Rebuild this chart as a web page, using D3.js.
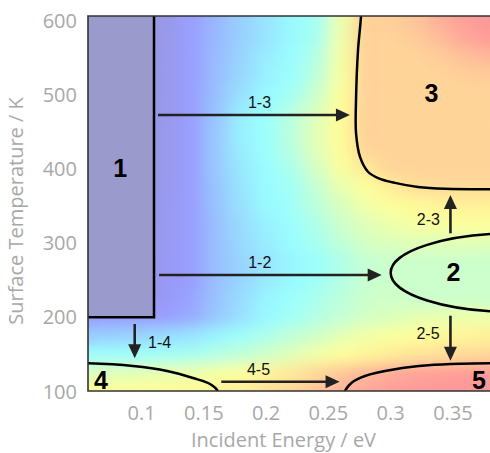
<!DOCTYPE html>
<html>
<head>
<meta charset="utf-8">
<script src="https://cdn.jsdelivr.net/npm/d3@7"></script>
<style>
  body { margin: 0; background: #fff; }
  .tick-label, .axis-title { font-family: "Open Sans", sans-serif; fill: #a8a8a8; }
  .arrow-label { font-family: "Liberation Sans", Arial, sans-serif; font-size: 16px; fill: #111; }
  .region-label { font-family: "Liberation Sans", Arial, sans-serif; font-size: 25px; font-weight: bold; fill: #000; }
</style>
</head>
<body>
<svg id="chart" width="490" height="453"></svg>
<script>
// heatmap grid (colour index 0..1), rows = temperatures, cols = energies
const energies = [0.06, 0.08, 0.10, 0.12, 0.14, 0.16, 0.18, 0.20, 0.22, 0.24, 0.26, 0.28, 0.30, 0.32, 0.34, 0.36, 0.38];
const temps = [600, 575, 550, 525, 500, 475, 450, 425, 400, 375, 350, 325, 300, 275, 250, 225, 200, 175, 150, 125, 100];
const grid = [
  [0.05,0.05,0.05,0.07,0.14,0.20,0.26,0.31,0.36,0.40,0.58,0.74,0.74,0.77,0.82,0.86,0.89],
  [0.05,0.05,0.05,0.07,0.14,0.20,0.26,0.31,0.36,0.41,0.59,0.74,0.73,0.75,0.79,0.84,0.87],
  [0.05,0.05,0.05,0.08,0.14,0.21,0.27,0.33,0.37,0.44,0.60,0.74,0.73,0.73,0.75,0.78,0.80],
  [0.05,0.05,0.05,0.08,0.14,0.21,0.28,0.34,0.38,0.46,0.61,0.74,0.73,0.73,0.73,0.74,0.75],
  [0.05,0.05,0.05,0.08,0.14,0.22,0.30,0.36,0.40,0.50,0.62,0.74,0.73,0.73,0.73,0.73,0.73],
  [0.05,0.05,0.05,0.08,0.14,0.23,0.33,0.38,0.45,0.54,0.63,0.74,0.73,0.73,0.73,0.73,0.73],
  [0.05,0.05,0.05,0.08,0.14,0.24,0.34,0.38,0.46,0.56,0.63,0.74,0.73,0.73,0.73,0.73,0.73],
  [0.05,0.05,0.05,0.08,0.14,0.24,0.33,0.38,0.45,0.55,0.63,0.73,0.73,0.73,0.73,0.73,0.73],
  [0.05,0.05,0.05,0.08,0.14,0.24,0.32,0.37,0.42,0.52,0.61,0.68,0.73,0.73,0.73,0.73,0.73],
  [0.05,0.05,0.05,0.08,0.14,0.23,0.31,0.37,0.40,0.48,0.57,0.62,0.67,0.70,0.71,0.71,0.71],
  [0.05,0.05,0.05,0.09,0.14,0.23,0.30,0.36,0.39,0.46,0.53,0.59,0.62,0.64,0.65,0.66,0.66],
  [0.05,0.05,0.05,0.09,0.14,0.22,0.29,0.34,0.38,0.43,0.50,0.55,0.58,0.60,0.61,0.62,0.62],
  [0.05,0.05,0.05,0.09,0.14,0.22,0.28,0.33,0.37,0.41,0.47,0.52,0.54,0.55,0.55,0.55,0.55],
  [0.05,0.05,0.05,0.10,0.14,0.22,0.27,0.31,0.35,0.38,0.43,0.48,0.50,0.50,0.50,0.50,0.50],
  [0.05,0.05,0.05,0.10,0.14,0.22,0.27,0.32,0.36,0.39,0.44,0.49,0.50,0.50,0.50,0.50,0.50],
  [0.05,0.05,0.05,0.11,0.15,0.23,0.29,0.35,0.38,0.42,0.46,0.50,0.51,0.50,0.50,0.50,0.50],
  [0.14,0.14,0.14,0.14,0.17,0.24,0.30,0.36,0.40,0.44,0.48,0.52,0.54,0.56,0.57,0.58,0.58],
  [0.25,0.26,0.27,0.29,0.31,0.35,0.39,0.43,0.47,0.51,0.56,0.59,0.61,0.62,0.64,0.65,0.66],
  [0.38,0.38,0.39,0.40,0.41,0.44,0.47,0.51,0.55,0.59,0.62,0.65,0.67,0.69,0.70,0.71,0.72],
  [0.54,0.55,0.56,0.57,0.58,0.60,0.62,0.65,0.68,0.72,0.76,0.80,0.83,0.85,0.86,0.87,0.88],
  [0.63,0.63,0.63,0.63,0.64,0.65,0.67,0.70,0.73,0.77,0.81,0.84,0.86,0.87,0.88,0.88,0.88]
];

// axis ticks
const xTicks = [0.1, 0.15, 0.2, 0.25, 0.3, 0.35];
const xTickLabels = ['0.1', '0.15', '0.2', '0.25', '0.3', '0.35'];
const yTicks = [100, 200, 300, 400, 500, 600];

// regions (energy eV, temperature K)
const region1 = { e0: 0.05, e1: 0.11, t0: 200, t1: 620 };
const region2 = { e: 0.40, t: 260, re: 0.10, rt: 53 };
const region3 = [[0.2762, 620], [0.2762, 606], [0.2738, 560], [0.2722, 493], [0.2722, 448], [0.2754, 416],
                 [0.2818, 396], [0.2899, 387.5], [0.3035, 381], [0.3219, 375.5], [0.3436, 373], [0.39, 372.5]];
const region4 = [[0.05, 138], [0.0571, 138], [0.0932, 134.3], [0.1205, 127.6], [0.1413, 118.2], [0.155, 110.1], [0.1614, 100], [0.1614, 95]];
const region5 = [[0.2633, 95], [0.2633, 100], [0.2687, 111.9], [0.2794, 120.9], [0.3035, 129.9], [0.3302, 135.3], [0.357, 137.4], [0.39, 138]];
const regionNames = ['1', '2', '3', '4', '5'];
const regionLabelE = [0.0828, 0.3504, 0.3327, 0.0675, 0.3709];
const regionLabelT = [389, 249, 490, 103.4, 103.4];

// transitions: from (e,t) to (e,t), label position
const arrowNames = ['1-3', '1-2', '1-4', '4-5', '2-3', '2-5'];
const arrowFrom = [[0.1132, 472.4], [0.1141, 256.9], [0.0945, 190.9], [0.164, 113.2], [0.348, 313.1], [0.348, 202.1]];
const arrowTo = [[0.2673, 472.4], [0.2928, 256.9], [0.0945, 144.7], [0.259, 113.2], [0.348, 364.7], [0.348, 141.5]];
const arrowLabelE = [0.1947, 0.1949, 0.1052, 0.1939, 0.3303, 0.33];
const arrowLabelT = [481.8, 266.4, 158.6, 122.2, 324.3, 170.7];
const arrowAnchor = ['middle', 'middle', 'start', 'middle', 'middle', 'middle'];

const LEFT = 88, RIGHT = 490, TOP = 16, BOTTOM = 391;

let svg = d3.select('#chart');

let x = d3.scaleLinear().domain([0.057, 0.38]).range([LEFT, 490.3]);
let y = d3.scaleLinear().domain([100, 600]).range([391.5, 20.3]);

// pale jet colour map
const clamp = v => Math.max(0, Math.min(1, v));
const jet = v => {
  let r = clamp(1.5 - Math.abs(4 * v - 3));
  let g = clamp(1.5 - Math.abs(4 * v - 2));
  let b = clamp(1.5 - Math.abs(4 * v - 1));
  return d3.rgb(255 * (0.6 + 0.4 * r), 255 * (0.6 + 0.4 * g), 255 * (0.6 + 0.4 * b)).formatHex();
};

let defs = svg.append('defs');
defs.append('clipPath').attr('id', 'plot-clip')
  .append('rect')
  .attr('x', LEFT).attr('y', TOP)
  .attr('width', RIGHT - LEFT).attr('height', BOTTOM - TOP);
defs.append('filter').attr('id', 'soft')
  .attr('filterUnits', 'userSpaceOnUse')
  .attr('x', 40).attr('y', -20).attr('width', 500).attr('height', 440)
  .append('feGaussianBlur').attr('stdDeviation', '9 7');

const cells = [];
temps.forEach((t, i) => energies.forEach((e, j) => cells.push({ e, t, v: grid[i][j] })));
const dE = energies[1] - energies[0], dT = temps[0] - temps[1];

let plot = svg.append('g').attr('clip-path', 'url(#plot-clip)');

// plain copy under a blurred copy, so the edges stay filled
function drawCells(g) {
  g.selectAll('rect')
    .data(cells)
    .enter()
    .append('rect')
    .attr('x', d => x(d.e - dE / 2))
    .attr('y', d => y(d.t + dT / 2))
    .attr('width', d => x(d.e + dE / 2) - x(d.e - dE / 2) + 0.5)
    .attr('height', d => y(d.t - dT / 2) - y(d.t + dT / 2) + 0.5)
    .attr('fill', d => jet(d.v));
}
drawCells(plot.append('g'));
drawCells(plot.append('g').attr('filter', 'url(#soft)'));

// region outlines
plot.append('rect')
  .attr('x', x(region1.e0)).attr('y', y(region1.t1))
  .attr('width', x(region1.e1) - x(region1.e0))
  .attr('height', y(region1.t0) - y(region1.t1))
  .attr('fill', '#9a9acc')
  .attr('stroke', '#000')
  .attr('stroke-width', 2.5);

plot.append('ellipse')
  .attr('cx', x(region2.e)).attr('cy', y(region2.t))
  .attr('rx', x(region2.e) - x(region2.e - region2.re))
  .attr('ry', y(region2.t - region2.rt) - y(region2.t))
  .attr('fill', 'none')
  .attr('stroke', '#000')
  .attr('stroke-width', 2.5);

let line = d3.line()
  .x(d => x(d[0]))
  .y(d => y(d[1]))
  .curve(d3.curveCatmullRom.alpha(0.5));

plot.selectAll('.boundary')
  .data([region3, region4, region5])
  .enter()
  .append('path')
  .attr('class', 'boundary')
  .attr('d', line)
  .attr('fill', 'none')
  .attr('stroke', '#000')
  .attr('stroke-width', 2.5);

// arrows
const HEAD = 14, HALF = 6.5;
arrowNames.forEach((name, i) => {
  let x0 = x(arrowFrom[i][0]), y0 = y(arrowFrom[i][1]);
  let x1 = x(arrowTo[i][0]), y1 = y(arrowTo[i][1]);
  let len = Math.hypot(x1 - x0, y1 - y0);
  let ux = (x1 - x0) / len, uy = (y1 - y0) / len;
  let bx = x1 - ux * HEAD, by = y1 - uy * HEAD;

  plot.append('line')
    .attr('x1', x0).attr('y1', y0)
    .attr('x2', bx + ux).attr('y2', by + uy)
    .attr('stroke', '#222')
    .attr('stroke-width', 2.6);

  plot.append('path')
    .attr('d', `M${x1},${y1}L${bx - uy * HALF},${by + ux * HALF}L${bx + uy * HALF},${by - ux * HALF}Z`)
    .attr('fill', '#222');

  plot.append('text')
    .attr('class', 'arrow-label')
    .attr('x', x(arrowLabelE[i]))
    .attr('y', y(arrowLabelT[i]))
    .attr('text-anchor', arrowAnchor[i])
    .text(name);
});

plot.selectAll('.region-label')
  .data(regionNames)
  .enter()
  .append('text')
  .attr('class', 'region-label')
  .attr('x', (d, i) => x(regionLabelE[i]))
  .attr('y', (d, i) => y(regionLabelT[i]))
  .attr('text-anchor', 'middle')
  .text(d => d);

// frame
svg.append('path')
  .attr('d', `M${RIGHT},${TOP}H${LEFT}V${BOTTOM}H${RIGHT}`)
  .attr('fill', 'none')
  .attr('stroke', '#333')
  .attr('stroke-width', 1.6);

// tick labels
svg.selectAll('.xtick')
  .data(xTicks)
  .enter()
  .append('text')
  .attr('class', 'tick-label xtick')
  .attr('x', d => x(d))
  .attr('y', 420)
  .attr('text-anchor', 'middle')
  .style('font-size', '20px')
  .text((d, i) => xTickLabels[i]);

svg.selectAll('.ytick')
  .data(yTicks)
  .enter()
  .append('text')
  .attr('class', 'tick-label ytick')
  .attr('x', 77)
  .attr('y', d => y(d))
  .attr('dy', '0.36em')
  .attr('text-anchor', 'end')
  .style('font-size', '20px')
  .text(d => d);

svg.append('text')
  .attr('class', 'axis-title')
  .attr('x', 283.5)
  .attr('y', 447)
  .attr('text-anchor', 'middle')
  .style('font-size', '20px')
  .text('Incident Energy / eV');

svg.append('text')
  .attr('class', 'axis-title')
  .attr('transform', 'translate(23,211) rotate(-90)')
  .attr('text-anchor', 'middle')
  .style('font-size', '20px')
  .text('Surface Temperature / K');
</script>
</body>
</html>
